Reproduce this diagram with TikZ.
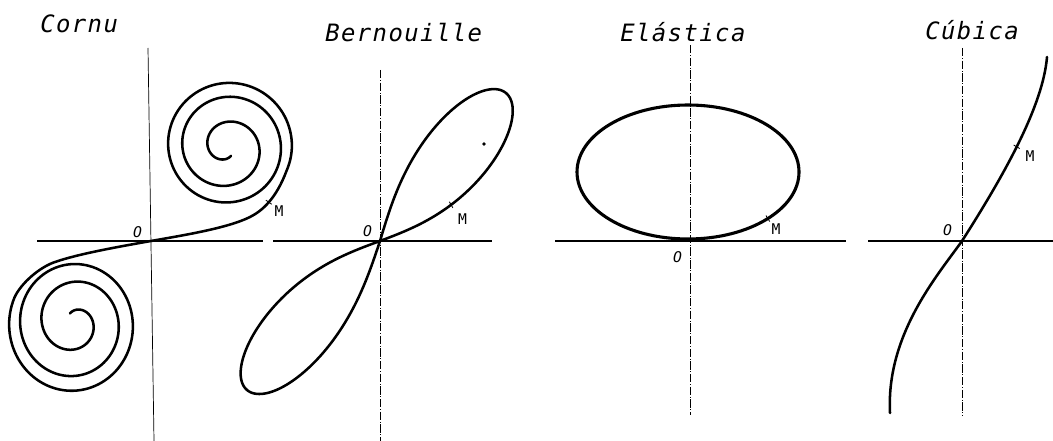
\documentclass[tikz,border=0pt]{standalone}
\usepackage{fontspec}
\newfontfamily\plotfont{DejaVu Sans Mono}[LetterSpace=6]
\newfontfamily\markfont{DejaVu Sans Mono}
\begin{document}
\begin{tikzpicture}[x=0.25mm,y=-0.25mm,
 curve/.style={line width=1.8pt,line join=round,line cap=round},
 haxis/.style={line width=1pt},
 vaxis/.style={line width=0.5pt,dash pattern=on 6pt off 1.2pt on 0.6pt off 1.2pt},
 title/.style={anchor=base west,inner sep=0pt,font=\plotfont\itshape\fontsize{17}{19}\selectfont},
 lbl/.style={inner sep=0pt,font=\markfont\fontsize{10.5}{11}\selectfont},
 mtick/.style={draw,inner sep=0pt,minimum width=0pt,minimum height=5pt,line width=0.6pt},
 declare function={cv(\t)=(\t-135)/360; cf(\t)=cv(\t)-sin(360*cv(\t))/(2*pi); cr(\t)=61-14*cf(\t)-5.5*cf(\t)*(cf(\t)-1);
  lx(\t)=cos(\t)/(1+sin(\t)*sin(\t)); ly(\t)=sin(\t)*cos(\t)/(1+sin(\t)*sin(\t));}]
\useasboundingbox (0,0) rectangle (1053,441);
% titles
\foreach \n/\x/\y/\t in {t1/40/33/Cornu,t2/325/42/Bernouille,t3/620/42/Elástica,t4/925/40/Cúbica} {\node[title] (\n) at (\x,\y) {\t};}
% origins
\coordinate (O1) at (150.9,241); \coordinate (O2) at (380,241); \coordinate (O3) at (690,241); \coordinate (O4) at (962,241);
% axes
\foreach \a/\b in {37/263,273/492,555/846,868/1053} {\draw[haxis] (\a,241) -- (\b,241);}
\draw[line width=0.5pt] (148,48) -- (154,441);
\foreach \x/\a/\b in {380/70/441,690/45/415,962/48/415} {\draw[vaxis] (\x,\a) -- (\x,\b);}
% Cornu
\coordinate (cS) at ({229+cr(-25)*cos(-25)},{144-cr(-25)*sin(-25)});
\coordinate (cT) at ({72-cr(-25)*cos(-25)},{326+1.06*cr(-25)*sin(-25)});
\draw[curve] (O1) .. controls (185,235) and (228,228) .. (250,217) .. controls (262,211) and (276,199) .. (cS) coordinate[pos=0.5] (cM)
 -- plot[domain=-25:1000,samples=300] ({229+cr(\x)*cos(\x)},{144-cr(\x)*sin(\x)});
\draw[curve] (O1) .. controls (117,247) and (78,254) .. (55,262) .. controls (40,267) and (21,283) .. (cT)
 -- plot[domain=-25:1000,samples=300] ({72-cr(\x)*cos(\x)},{326+1.06*cr(\x)*sin(\x)});
% Bernouille
\draw[curve] plot[domain=-90:90,samples=150] ({380+128*lx(\x)-62*ly(\x)},{241-146*lx(\x)-74*ly(\x)});
\draw[curve] plot[domain=-90:90,samples=150] ({380-135*lx(\x)+61*ly(\x)},{241+147*lx(\x)+75*ly(\x)});
\coordinate (bM) at ({380+128*lx(-50)-62*ly(-50)},{241-146*lx(-50)-74*ly(-50)});
\fill (484,144) circle[radius=1.3pt];
% Elastica
\coordinate (eC) at (688,172);
\draw[curve,line width=2.2pt] (eC) ellipse [x radius=111,y radius=67];
\path (eC) ++(44:111 and 67) coordinate (eM);
% Cubica
\draw[curve] (890,413) .. controls (886,335) and (937,276) .. (O4) .. controls (1006,172) and (1043,105) .. (1047,57) coordinate[pos=0.47] (uM);
% ticks and labels
\foreach \p/\r in {cM/55,bM/30,eM/32,uM/60} {\node[mtick,rotate=\r] (k\p) at (\p) {};}
\foreach \n/\x/\y in {o1/137.5/232.5,o2/367.5/231,o3/677.5/257.5,o4/947.5/230} {\node[lbl,font=\markfont\itshape\fontsize{10.5}{11}\selectfont] (\n) at (\x,\y) {O};}
\foreach \n/\x/\y in {m1/279/211,m2/462.5/219,m3/776/229,m4/1030/156} {\node[lbl] (\n) at (\x,\y) {M};}
\end{tikzpicture}
\end{document}
